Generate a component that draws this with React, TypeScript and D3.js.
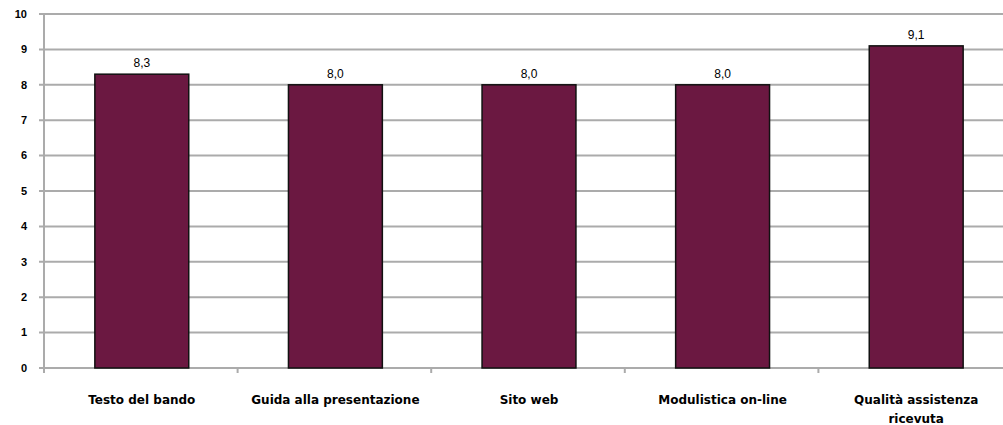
import React from "react";
import * as d3 from "d3";

const categories: string[][] = [
  ["Testo del bando"],
  ["Guida alla presentazione"],
  ["Sito web"],
  ["Modulistica on-line"],
  ["Qualità assistenza", "ricevuta"],
];
const values: number[] = [8.3, 8.0, 8.0, 8.0, 9.1];
const yTicks: number[] = [0, 1, 2, 3, 4, 5, 6, 7, 8, 9, 10];

const W = 1003;
const H = 425;
const left = 44;
const right = 1012;
const top = 14;
const bottom = 368;

export default function App() {
  const x = d3
    .scaleBand<number>()
    .domain(d3.range(values.length))
    .range([left, right])
    .paddingInner(0.515)
    .paddingOuter(0.2575);
  const xOuter = d3.scaleLinear().domain([0, values.length]).range([left, right]);
  const y = d3.scaleLinear().domain([0, 10]).range([bottom, top]);
  const fmt = (v: number) => v.toFixed(1).replace(".", ",");

  return (
    <svg
      width={W}
      height={H}
      style={{ position: "absolute", left: 0, top: 0, background: "#fff" }}
      fontFamily="'Liberation Sans', Arial, sans-serif"
    >
      {yTicks.map((t) => (
        <g key={t}>
          <line x1={left - 5} x2={W} y1={y(t)} y2={y(t)} stroke="#ababab" strokeWidth={2} />
          <text
            x={27}
            y={y(t)}
            dy="0.35em"
            textAnchor="end"
            fontSize={11}
            fontWeight="bold"
            fill="#000"
          >
            {t}
          </text>
        </g>
      ))}
      <line x1={left} x2={left} y1={top} y2={bottom + 5} stroke="#ababab" strokeWidth={2} />
      {d3.range(values.length + 1).map((i) => (
        <line
          key={i}
          x1={xOuter(i)}
          x2={xOuter(i)}
          y1={bottom}
          y2={bottom + 5}
          stroke="#ababab"
          strokeWidth={2}
        />
      ))}
      {values.map((v, i) => (
        <g key={i}>
          <rect
            x={(x(i) as number) + 1}
            y={y(v)}
            width={x.bandwidth()}
            height={y(0) - y(v)}
            fill="#6b1841"
            stroke="#111"
            strokeWidth={1.5}
          />
          <text
            x={(x(i) as number) + 1 + x.bandwidth() / 2}
            y={y(v) - 7}
            textAnchor="middle"
            fontSize={12}
            fill="#000"
          >
            {fmt(v)}
          </text>
        </g>
      ))}
      {categories.map((lines, i) => (
        <text
          key={i}
          x={(x(i) as number) + x.bandwidth() / 2}
          y={404}
          textAnchor="middle"
          fontSize={12}
          fontWeight="bold"
          fontFamily="'DejaVu Sans', sans-serif"
          fill="#000"
        >
          {lines.map((l, j) => (
            <tspan key={j} x={(x(i) as number) + 1 + x.bandwidth() / 2} dy={j === 0 ? 0 : 19}>
              {l}
            </tspan>
          ))}
        </text>
      ))}
    </svg>
  );
}
